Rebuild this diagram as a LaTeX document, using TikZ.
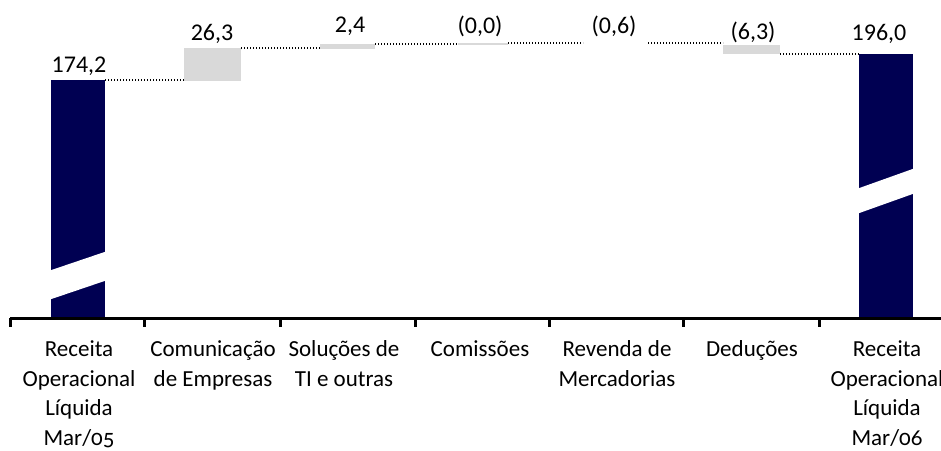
\documentclass[tikz,border=0pt]{standalone}
\usepackage{fontspec}
\setmainfont{Carlito}
\newfontfamily\oldnum{Carlito}[Numbers=OldStyle]
\definecolor{navy}{RGB}{0,0,82}
\definecolor{barGray}{RGB}{217,217,217}
\begin{document}
\begin{tikzpicture}[x=1pt,y=-1pt,
  bar/.style={rectangle, inner sep=0pt, outer sep=0pt, anchor=north west, draw=none},
  navybar/.style={bar, fill=navy},
  graybar/.style={bar, fill=barGray},
  dotline/.style={line width=1.6pt, dash pattern=on 1.4pt off 1.6pt},
  val/.style={anchor=base, inner sep=0pt, font=\fontsize{24}{28}\selectfont},
  cat/.style={anchor=north, align=center, inner sep=0pt, font=\fontsize{23}{29.5}\selectfont\oldnum},
  axisline/.style={line width=3pt},
  tick/.style={line width=3pt}]
\useasboundingbox (0,0) rectangle (941,450);

% bars
\node[navybar, minimum width=54pt, minimum height=238pt] (b1) at (51,80) {};
\node[graybar, minimum width=57pt, minimum height=33pt] (b2) at (184,48) {};
\node[graybar, minimum width=55pt, minimum height=5pt] (b3) at (320,44) {};
\node[graybar, minimum width=50pt, minimum height=1.5pt] (b4) at (458,43) {};
\node[bar, minimum width=65pt, minimum height=0.7pt] (b5) at (583,43) {};
\node[graybar, minimum width=57pt, minimum height=9pt] (b6) at (723,45) {};
\node[navybar, minimum width=54pt, minimum height=264pt] (b7) at (859,54) {};

% breaks
\fill[white] (50,270.5) -- (106,251.5) -- (106,280.5) -- (50,299.5) -- cycle;
\fill[white] (858,188.5) -- (914,168.5) -- (914,193.5) -- (858,213.5) -- cycle;

% dotted connectors
\draw[dotline] (b1.north east) -- (b1.north east -| b2.west);
\draw[dotline] (b2.north east) -- (b2.north east -| b3.west);
\draw[dotline] (b3.north east) -- (b3.north east -| b4.west);
\draw[dotline] (b4.north east) -- (b5.north west);
\draw[dotline] (b5.north east) -- (b5.north east -| b6.west);
\draw[dotline] (b6.south east) -- (b6.south east -| b7.west);

% axis
\coordinate (axL) at (10,318);
\coordinate (axR) at (941,318);
\draw[axisline] (axL) -- (axR);
\foreach \tx in {10,144,280,415,549,683,819}
  \draw[tick] (\tx,318) -- (\tx,327);

% values
\node[val] (v1) at (79,72) {174,2};
\node[val] (v2) at (212,40) {26,3};
\node[val] (v3) at (350,32) {2,4};
\node[val] (v4) at (480,33) {(0,0)};
\node[val] (v5) at (614,33) {(0,6)};
\node[val] (v6) at (753,39) {(6,3)};
\node[val] (v7) at (879,40) {196,0};

% categories
\node[cat] (c1) at (79,336) {\strut Receita\\Operacional\\Líquida\\Mar/05};
\node[cat] (c2) at (213,336) {\strut Comunicação\\de Empresas};
\node[cat] (c3) at (344,336) {\strut Soluções de\\TI e outras};
\node[cat] (c4) at (480,336) {\strut Comissões};
\node[cat] (c5) at (617,336) {\strut Revenda de\\Mercadorias};
\node[cat] (c6) at (752,336) {\strut Deduções};
\node[cat] (c7) at (887,336) {\strut Receita\\Operacional\\Líquida\\Mar/06};
\end{tikzpicture}
\end{document}
